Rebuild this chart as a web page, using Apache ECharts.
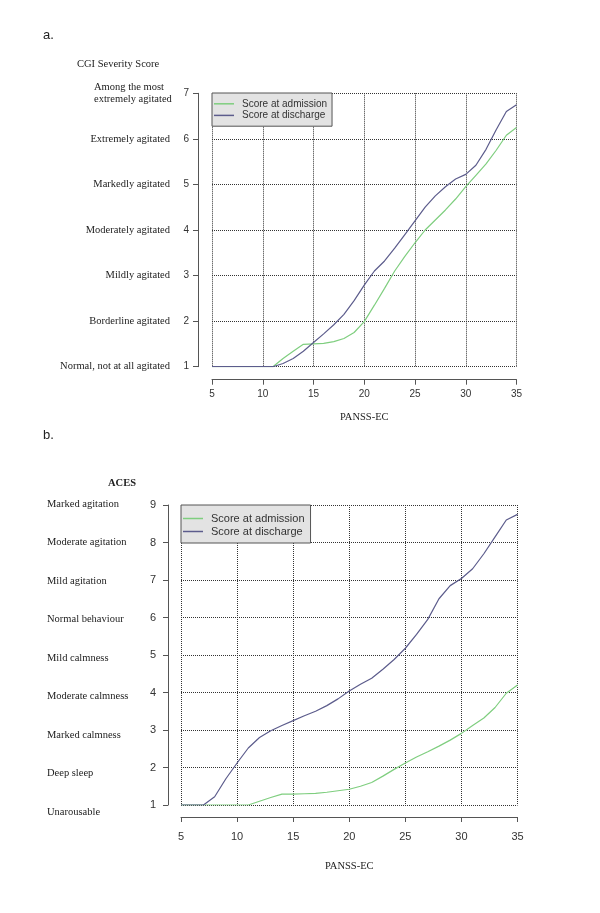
<!DOCTYPE html>
<html>
<head>
<meta charset="utf-8">
<script src="https://cdn.jsdelivr.net/npm/echarts@6/dist/echarts.min.js"></script>
<style>
html,body{margin:0;padding:0;background:#fff;}
#main{width:600px;height:913px;}
</style>
</head>
<body>
<div id="main"></div>
<script>
// PANSS-EC values on the x axis (both panels)
var panssX = [5,6,7,8,9,10,11,12,13,14,15,16,17,18,19,20,21,22,23,24,25,26,27,28,29,30,31,32,33,34,35];

// panel a - CGI severity
var cgiAdmission = [1,1,1,1,1,1,1,1.18,1.34,1.49,1.5,1.51,1.55,1.62,1.75,1.99,2.35,2.72,3.1,3.42,3.72,4.0,4.22,4.44,4.68,4.95,5.2,5.45,5.75,6.08,6.25];
var cgiDischarge = [1,1,1,1,1,1,1,1.07,1.18,1.34,1.53,1.72,1.92,2.15,2.45,2.79,3.1,3.32,3.6,3.9,4.2,4.5,4.75,4.95,5.12,5.22,5.42,5.77,6.2,6.6,6.75];
var cgiTicks = ['Normal, not at all agitated','Borderline agitated','Mildly agitated','Moderately agitated','Markedly agitated','Extremely agitated','Among the most\nextremely agitated'];

// panel b - ACES
var acesAdmission = [1,1,1,1,1,1,1,1.1,1.2,1.29,1.29,1.3,1.31,1.34,1.38,1.42,1.5,1.6,1.77,1.95,2.12,2.28,2.42,2.57,2.73,2.91,3.12,3.32,3.6,3.98,4.2];
var acesDischarge = [1,1,1,1.22,1.7,2.12,2.52,2.8,2.98,3.12,3.25,3.38,3.5,3.65,3.83,4.04,4.22,4.38,4.62,4.88,5.18,5.55,5.95,6.5,6.85,7.04,7.3,7.7,8.15,8.6,8.75];
var acesTicks = ['Unarousable','Deep sleep','Marked calmness','Moderate calmness','Mild calmness','Normal behaviour','Mild agitation','Moderate agitation','Marked agitation'];

var GREEN = '#7fce7f';
var BLUE = '#5c5c8c';
var SERIF = 'Liberation Serif';
var SANS = 'Liberation Sans';

function pairs(ys){
	var out = [];
	for(var i=0;i<panssX.length;i++) out.push([panssX[i],ys[i]]);
	return out;
}

// R style axis: solid gray line set off from the plot box
function numAxis(grid,min,max,offset,margin,size){
	return {
		type:'value',gridIndex:grid,min:min,max:max,interval:(max-min>10?5:1),offset:offset,
		axisLine:{show:true,lineStyle:{color:'#555',width:1}},
		axisTick:{show:true,length:5,lineStyle:{color:'#555'}},
		axisLabel:{color:'#333',fontFamily:SANS,fontSize:size,margin:margin},
		splitLine:{show:true,lineStyle:{color:'#333',type:'dotted',width:1}}
	};
}

function legendCfg(left,top,size,pad,lh){
	return {
		left:left,top:top,orient:'vertical',
		backgroundColor:'#e3e3e3',borderColor:'#555',borderWidth:1,borderRadius:0,
		padding:pad,itemGap:0,itemWidth:20,itemHeight:1.5,icon:'rect',
		textStyle:{fontFamily:SANS,fontSize:size,color:'#333',lineHeight:lh,padding:[0,0,0,3]},
		data:['Score at admission','Score at discharge']
	};
}

function lineSeries(name,color,xi,yi,ys){
	return {
		name:name,type:'line',xAxisIndex:xi,yAxisIndex:yi,data:pairs(ys),
		showSymbol:false,smooth:false,
		lineStyle:{color:color,width:1.2},itemStyle:{color:color},z:3
	};
}

var chart = echarts.init(document.getElementById('main'),null,{renderer:'canvas'});

var xa = numAxis(0,5,35,13,10,10);
xa.name = 'PANSS-EC';
xa.nameLocation = 'middle';
xa.nameGap = 32;
xa.nameTextStyle = {fontFamily:SERIF,fontSize:10.5,color:'#222'};
var xb = numAxis(1,5,35,12,14,11);
xb.name = 'PANSS-EC';
xb.nameLocation = 'middle';
xb.nameGap = 44;
xb.nameTextStyle = {fontFamily:SERIF,fontSize:10.5,color:'#222'};

var ya = numAxis(0,1,7,14,9,10);
var yb = numAxis(1,1,9,13,12,11);

// text labels of the scales
var yaText = {
	type:'value',gridIndex:0,min:1,max:7,interval:1,position:'left',
	axisLine:{show:false},axisTick:{show:false},splitLine:{show:false},
	axisLabel:{
		margin:42,align:'right',fontFamily:SERIF,fontSize:10.5,color:'#222',
		formatter:function(v){
			var s = cgiTicks[Math.round(v)-1];
			if(s.indexOf('\n')>=0){
				var p = s.split('\n');
				return '{l|'+p[0]+'}\n{l|'+p[1]+'}';
			}
			return s;
		},
		rich:{l:{width:80,align:'left',fontFamily:SERIF,fontSize:10.5,color:'#222',lineHeight:12,padding:[0,-4,0,4]}}
	}
};
var ybText = {
	type:'category',gridIndex:2,data:acesTicks,boundaryGap:false,position:'left',
	axisLine:{show:false},axisTick:{show:false},splitLine:{show:false},
	axisLabel:{interval:0,margin:121,align:'left',fontFamily:SERIF,fontSize:10.5,color:'#222'}
};

var option = {
	backgroundColor:'#fff',
	animation:false,
	grid:[
		{left:212,top:93.3,width:304.5,height:273.4},
		{left:181,top:505,width:336.5,height:300},
		{left:168,top:504,width:1,height:308}
	],
	xAxis:[xa,xb,{type:'value',gridIndex:2,show:false}],
	yAxis:[ya,yaText,yb,ybText],
	legend:[
		legendCfg(212,93,10,[5,5,5,2],11.6),
		legendCfg(181,505,11,[7,6,5,2],13)
	],
	series:[
		lineSeries('Score at admission',GREEN,0,0,cgiAdmission),
		lineSeries('Score at discharge',BLUE,0,0,cgiDischarge),
		lineSeries('Score at admission',GREEN,1,2,acesAdmission),
		lineSeries('Score at discharge',BLUE,1,2,acesDischarge)
	],
	graphic:[
		{type:'text',left:43,top:29,style:{text:'a.',fontFamily:SANS,fontSize:13,fill:'#222'}},
		{type:'text',left:43,top:429,style:{text:'b.',fontFamily:SANS,fontSize:13,fill:'#222'}},
		{type:'text',left:77,top:59,style:{text:'CGI Severity Score',fontFamily:SERIF,fontSize:10.5,fill:'#222'}},
		{type:'text',left:108,top:478,style:{text:'ACES',fontFamily:SERIF,fontSize:10.5,fontWeight:'bold',fill:'#222'}}
	]
};
chart.setOption(option);
</script>
</body>
</html>
